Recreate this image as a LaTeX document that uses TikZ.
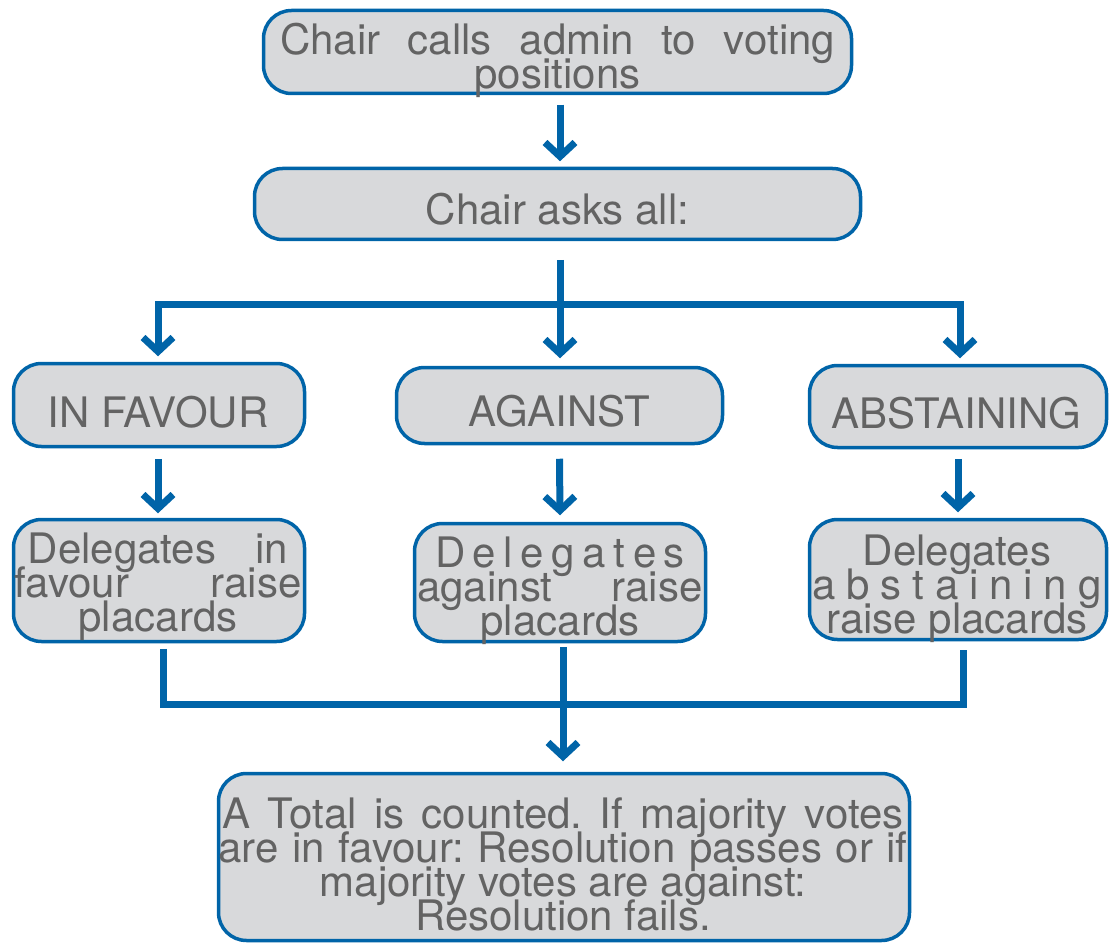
\documentclass[tikz,border=0pt]{standalone}
\usepackage{fontspec}
\setmainfont{TeX Gyre Heros}
\usetikzlibrary{arrows.meta,calc}
\definecolor{myblue}{RGB}{0,100,168}
\definecolor{boxgray}{RGB}{216,217,219}
\definecolor{textgray}{RGB}{99,99,99}
\newcommand{\jl}[2]{\makebox[#1][s]{#2}}
\newcommand{\mlines}[2]{\parbox[t]{#1}{\fontsize{42}{34}\selectfont\lineskiplimit=-100pt\relax\centering #2}}
\frenchspacing
\begin{document}
\frenchspacing
\begin{tikzpicture}[x=1pt,y=-1pt,
  box/.style={draw=myblue, fill=boxgray, line width=3.5pt, rounded corners=28pt, inner sep=0pt},
  txt/.style={text=textgray, inner sep=0pt, anchor=base, font={\fontsize{42}{34}\selectfont}},
  conn/.style={draw=myblue, line width=7pt, line join=miter, line cap=butt},
  arr/.style={conn, -{Straight Barb[length=14pt,width=30pt]}},
  arrb/.style={conn, {Straight Barb[length=14pt,width=30pt]}-{Straight Barb[length=14pt,width=30pt]}}
]
\path[use as bounding box] (0,0) rectangle (1111,944);

% boxes
\node[box, minimum width=588pt, minimum height=83pt] (B1) at (557.5,52) {};
\node[box, minimum width=606pt, minimum height=71pt] (B2) at (557.5,204) {};
\node[box, minimum width=291pt, minimum height=83pt] (F) at (159,405) {};
\node[box, minimum width=326pt, minimum height=76pt] (A) at (559.5,405.5) {};
\node[box, minimum width=297pt, minimum height=82pt] (S) at (958,406.5) {};
\node[box, minimum width=291pt, minimum height=122pt] (DF) at (159,580.5) {};
\node[box, minimum width=291pt, minimum height=118pt] (DA) at (560,582.5) {};
\node[box, minimum width=297pt, minimum height=120pt] (DS) at (958,579.5) {};
\node[box, minimum width=691pt, minimum height=167pt] (T) at (564,857) {};

% texts
\node[txt] (t1) at ([yshift=-3pt]B1.center) {\mlines{580pt}{\jl{555pt}{Chair calls admin to voting}\\positions}};
\node[txt] (t2) at ([yshift=-21pt]B2.center) {Chair asks all:};
\node[txt] (tF) at ([xshift=-1pt,yshift=-22pt]F.center) {IN FAVOUR};
\node[txt] (tA) at ([yshift=-20.5pt]A.center) {AGAINST};
\node[txt] (tS) at ([xshift=-1.5pt,yshift=-21.5pt]S.center) {ABSTAINING};
\node[txt] (tDF) at ([xshift=-1pt,yshift=17.5pt]DF.center) {\mlines{300pt}{\jl{260pt}{Delegates in}\\\jl{287pt}{favour raise}\\placards}};
\node[txt] (tDA) at ([yshift=15.5pt]DA.center) {\mlines{300pt}{\jl{250pt}{D\hfill e\hfill l\hfill e\hfill g\hfill a\hfill t\hfill e\hfill s}\\\jl{285pt}{against raise}\\placards}};
\node[txt] (tDS) at ([xshift=-1pt,yshift=14.5pt]DS.center) {\mlines{300pt}{Delegates\\\jl{289pt}{a\hfill b\hfill s\hfill t\hfill a\hfill i\hfill n\hfill i\hfill n\hfill g}\\raise placards}};
\node[txt] (tT) at ([xshift=-1pt,yshift=29pt]T.center) {\mlines{700pt}{\jl{681pt}{A Total is counted. If majority votes}\\\jl{689pt}{are in favour: Resolution passes or if}\\majority votes are against:\\Resolution fails.}};

% connectors
\coordinate (split) at (560,304);
\coordinate (merge) at (563,704);
\draw[arr] ([xshift=2.5pt,yshift=-9.5pt]B1.south) -- ([xshift=2.5pt,yshift=5.5pt]B2.north);
\draw[arr] ([xshift=2.5pt,yshift=-18.5pt]B2.south) -- ([xshift=0.5pt,yshift=7.5pt]A.north);
\draw[arrb] ([xshift=-1pt,yshift=5.5pt]F.north) |- (split) -| ([xshift=2pt,yshift=5.5pt]S.north);
\draw[arr] ([xshift=-1pt,yshift=-10.5pt]F.south) -- ([xshift=-1pt,yshift=4.5pt]DF.north);
\draw[arr] ([yshift=-13.5pt]A.south) -- ([yshift=6.5pt]DA.north);
\draw[arr] ([yshift=-9.5pt]S.south) -- ([yshift=5.5pt]DS.north);
\draw[conn] ([xshift=4pt,yshift=-5.5pt]DF.south) |- (merge) -| ([xshift=5pt,yshift=-8.5pt]DS.south);
\draw[arr] ([xshift=3pt,yshift=-3.5pt]DA.south) -- ([xshift=-1pt,yshift=10.5pt]T.north);
\end{tikzpicture}
\end{document}
